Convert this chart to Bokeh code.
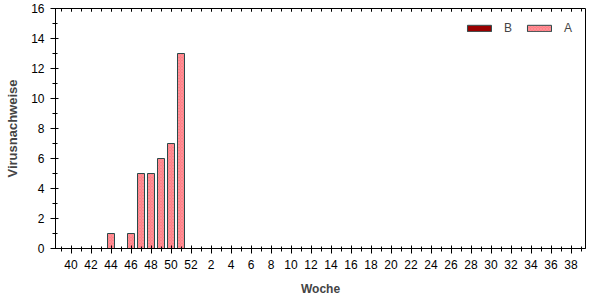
from bokeh.plotting import figure
from bokeh.models import (ColumnDataSource, FixedTicker, LinearAxis, Range1d,
                          Legend, LegendItem)
from bokeh.embed import file_html
from bokeh.resources import INLINE

# ---- data ----
weeks = [40, 41, 42, 43, 44, 45, 46, 47, 48, 49, 50, 51, 52] + list(range(1, 40))
series_a = [0, 0, 0, 0, 1, 0, 1, 5, 5, 6, 7, 13, 0] + [0] * 39
series_b = [0] * 52
y_ticks = [0, 2, 4, 6, 8, 10, 12, 14, 16]

idx = list(range(len(weeks)))
src_a = ColumnDataSource(dict(x=[i for i, v in zip(idx, series_a) if v > 0],
                              top=[v for v in series_a if v > 0]))
src_b = ColumnDataSource(dict(x=idx, top=series_b))

FONT = "Liberation Sans"

p = figure(width=602, height=300, output_backend="svg", toolbar_location=None,
           x_range=Range1d(-1.55, 51.45), y_range=Range1d(0, 16),
           min_border_left=55, min_border_right=17, min_border_top=8,
           min_border_bottom=52)
p.background_fill_color = "white"
p.border_fill_color = "white"
p.outline_line_color = "black"
p.outline_line_width = 1
p.xgrid.visible = False
p.ygrid.visible = False

rb = p.vbar(x="x", top="top", width=0.7, bottom=0, source=src_b,
            fill_color="#990000", line_color="#2f4f4f", line_width=1)
ra = p.vbar(x="x", top="top", width=0.7, bottom=0, source=src_a,
            fill_color="#ff7f86", line_color="#2a4a4a", line_width=1,
            hatch_pattern="diagonal_cross", hatch_color="#ff9aa0",
            hatch_scale=3, hatch_weight=0.6)

# x axis
xa = p.xaxis[0]
major = [i for i, w in zip(idx, weeks) if w % 2 == 0]
xa.ticker = FixedTicker(ticks=major, minor_ticks=list(range(-1, 52)))
xa.major_label_overrides = {i: str(w) for i, w in zip(idx, weeks) if w % 2 == 0}
xa.axis_label = "Woche"
xa.axis_label_text_font = FONT
xa.axis_label_text_font_style = "bold"
xa.axis_label_text_font_size = "12px"
xa.axis_label_standoff = 10
xa.major_label_text_font = FONT
xa.major_label_text_font_size = "12px"
xa.major_label_text_color = "black"
xa.major_label_standoff = 6
xa.major_tick_in = 3
xa.major_tick_out = 5
xa.minor_tick_in = 2
xa.minor_tick_out = 3

# y axis
ya = p.yaxis[0]
ya.ticker = FixedTicker(ticks=y_ticks, minor_ticks=list(range(0, 17)))
ya.axis_label = "Virusnachweise"
ya.axis_label_text_font = FONT
ya.axis_label_text_font_style = "bold"
ya.axis_label_text_font_size = "13px"
ya.axis_label_standoff = 8
ya.major_label_text_font = FONT
ya.major_label_text_font_size = "12px"
ya.major_label_text_color = "black"
ya.major_label_standoff = 6
ya.major_tick_in = 3
ya.major_tick_out = 5
ya.minor_tick_in = 2
ya.minor_tick_out = 3

# mirrored top ticks (inside), no labels
top_axis = LinearAxis(ticker=FixedTicker(ticks=major, minor_ticks=list(range(-1, 52))))
top_axis.major_label_overrides = {i: "" for i in major}
top_axis.major_tick_in = 3
top_axis.major_tick_out = 0
top_axis.minor_tick_in = 3
top_axis.minor_tick_out = 0
top_axis.axis_line_color = None
top_axis.major_label_standoff = 0
p.add_layout(top_axis, "above")

legend = Legend(items=[LegendItem(label="B", renderers=[rb], index=0),
                       LegendItem(label="A", renderers=[ra], index=0)],
                location="top_right", orientation="horizontal")
legend.border_line_color = None
legend.background_fill_alpha = 0
legend.glyph_width = 30
legend.glyph_height = 8
legend.label_standoff = 10
legend.label_width = 7
legend.spacing = 12
legend.padding = 0
legend.margin = 13
legend.label_text_font = FONT
legend.label_text_font_size = "12px"
legend.label_height = 8
p.add_layout(legend)

open("out.html", "w").write(file_html(p, INLINE))
